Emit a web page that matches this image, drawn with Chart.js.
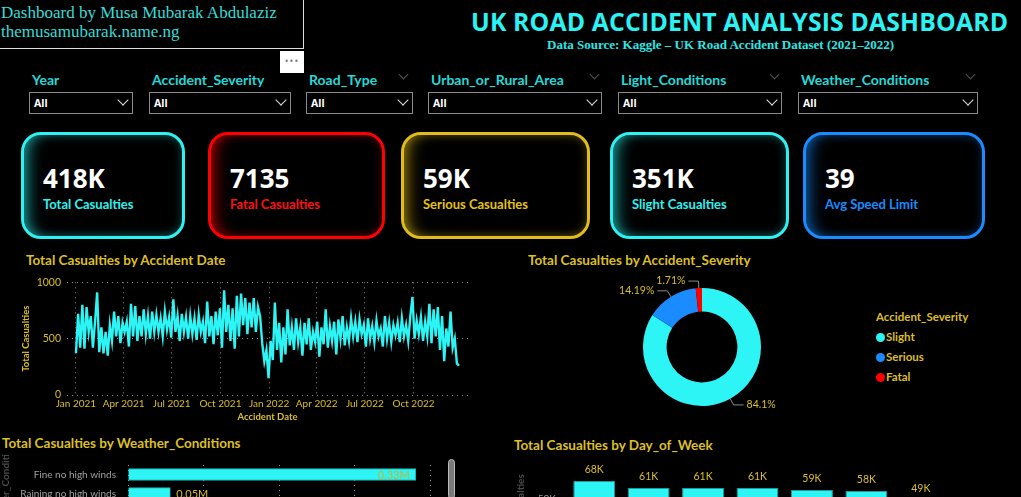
<!DOCTYPE html>
<html>
<head>
<meta charset="utf-8">
<script src="https://cdn.jsdelivr.net/npm/chart.js@4.4.1/dist/chart.umd.min.js"></script>
<style>
  html, body { margin: 0; padding: 0; background: #000; width: 1021px; height: 497px; overflow: hidden; }
  body { position: relative; font-family: "Open Sans", sans-serif; }
  .abs { position: absolute; }
  #author { left: 0; top: 0; width: 304px; height: 49px; border-right: 1px solid #ddd; border-bottom: 1px solid #ddd; white-space: nowrap;
    box-sizing: border-box; font-family: "Liberation Serif", serif; font-size: 17px; line-height: 19px; color: #36dcd8; padding: 3px 0 0 1px; }
  #dots { left: 280px; top: 51px; width: 24px; height: 22px; background: #fff; color: #777; font-size: 10px; text-align: center; line-height: 20px; letter-spacing: 1px; }
  #title { left: 471px; top: 4px; font-weight: 700; font-size: 24.8px; color: #2cf3f3; white-space: nowrap; letter-spacing: 0.15px; }
  #source { left: 547px; top: 37px; font-family: "Liberation Serif", serif; font-weight: 700; font-size: 13px; color: #2ee6e6; white-space: nowrap; }
  .flabel { top: 71px; font-family: Lato, sans-serif; font-weight: 700; font-size: 14px; color: #22dada; white-space: nowrap; }
  .fbox { top: 92px; height: 22px; border: 1px solid #8a8a8a; box-sizing: border-box; }
  .fbox span { position: absolute; left: 4px; top: 3px; font-family: "Noto Sans", sans-serif; font-weight: 700; font-size: 10.5px; color: #fff; }
  .chev { position: absolute; width: 7px; height: 7px; border-right: 1.5px solid #ddd; border-bottom: 1.5px solid #ddd; transform: rotate(45deg); }
  .fbox .chev { right: 5px; top: 3px; }
  .hchev { top: 71px; width: 6px; height: 6px; border-right: 1px solid #555; border-bottom: 1px solid #555; transform: rotate(45deg); }
  .kpi { top: 132px; height: 107px; border: 3.5px solid; border-radius: 20px; box-sizing: border-box; }
  .kpi .num { position: absolute; left: 19px; top: 25px; font-family: "Noto Sans", sans-serif; font-weight: 700; font-size: 26px; color: #fff; }
  .kpi .lab { position: absolute; left: 19px; top: 61px; font-family: Lato, sans-serif; font-weight: 700; font-size: 13px; white-space: nowrap; }
  .ctitle { font-family: Lato, sans-serif; font-weight: 700; font-size: 13.5px; color: #dcbf26; white-space: nowrap; }
  #legend { left: 876px; top: 310px; font-family: Lato, sans-serif; font-weight: 700; font-size: 11.5px; color: #dcbf26; }
  #legend div { height: 20px; line-height: 14px; }
  #legend i { display: inline-block; width: 9px; height: 9px; border-radius: 50%; margin-right: 1px; vertical-align: -1px; }
  #scroll { left: 448px; top: 459px; width: 7px; height: 40px; background: #7a7a7a; border: 1px solid #bbb; border-radius: 4px; box-sizing: border-box; }
  canvas { position: absolute; }
</style>
</head>
<body>

<div id="author" class="abs">Dashboard by Musa Mubarak Abdulaziz<br>themusamubarak.name.ng</div>
<div id="dots" class="abs">&bull;&bull;&bull;</div>
<div id="title" class="abs">UK ROAD ACCIDENT ANALYSIS DASHBOARD</div>
<div id="source" class="abs">Data Source: Kaggle – UK Road Accident Dataset (2021–2022)</div>

<div class="abs flabel" style="left:32px">Year</div>
<div class="abs flabel" style="left:152px">Accident_Severity</div>
<div class="abs flabel" style="left:309px">Road_Type</div>
<div class="abs flabel" style="left:431px">Urban_or_Rural_Area</div>
<div class="abs flabel" style="left:621px">Light_Conditions</div>
<div class="abs flabel" style="left:801px">Weather_Conditions</div>
<div class="abs hchev" style="left:400px"></div>
<div class="abs hchev" style="left:591px"></div>
<div class="abs hchev" style="left:771px"></div>
<div class="abs hchev" style="left:967px"></div>

<div class="abs fbox" style="left:29px;width:104px"><span>All</span><i class="chev"></i></div>
<div class="abs fbox" style="left:149px;width:142px"><span>All</span><i class="chev"></i></div>
<div class="abs fbox" style="left:306px;width:107px"><span>All</span><i class="chev"></i></div>
<div class="abs fbox" style="left:428px;width:174px"><span>All</span><i class="chev"></i></div>
<div class="abs fbox" style="left:618px;width:164px"><span>All</span><i class="chev"></i></div>
<div class="abs fbox" style="left:798px;width:180px"><span>All</span><i class="chev"></i></div>

<div class="abs kpi" style="left:21px;width:164px;border-color:#2ef2f2;box-shadow:inset 12px 0 16px -8px rgba(46,242,242,.55), inset 0 0 10px rgba(46,242,242,.3)">
  <div class="num">418K</div><div class="lab" style="color:#2ef2f2">Total Casualties</div></div>
<div class="abs kpi" style="left:208px;width:177px;border-color:#ff0000;box-shadow:inset 12px 0 16px -8px rgba(255,0,0,.55), inset 0 0 10px rgba(255,0,0,.3)">
  <div class="num">7135</div><div class="lab" style="color:#ff1010">Fatal Casualties</div></div>
<div class="abs kpi" style="left:401px;width:189px;border-color:#e0bd1c;box-shadow:inset 12px 0 16px -8px rgba(224,189,28,.55), inset 0 0 10px rgba(224,189,28,.3)">
  <div class="num">59K</div><div class="lab" style="color:#e6c21a">Serious Casualties</div></div>
<div class="abs kpi" style="left:610px;width:179px;border-color:#2ef2f2;box-shadow:inset 12px 0 16px -8px rgba(46,242,242,.55), inset 0 0 10px rgba(46,242,242,.3)">
  <div class="num">351K</div><div class="lab" style="color:#2ef2f2">Slight Casualties</div></div>
<div class="abs kpi" style="left:803px;width:182px;border-color:#1a8cff;box-shadow:inset 12px 0 16px -8px rgba(26,140,255,.55), inset 0 0 10px rgba(26,140,255,.3)">
  <div class="num">39</div><div class="lab" style="color:#1a8cff">Avg Speed Limit</div></div>

<div class="abs ctitle" style="left:26px;top:252px">Total Casualties by Accident Date</div>
<div class="abs ctitle" style="left:528px;top:252px">Total Casualties by Accident_Severity</div>
<div class="abs ctitle" style="left:2px;top:435px">Total Casualties by Weather_Conditions</div>
<div class="abs ctitle" style="left:514px;top:437px">Total Casualties by Day_of_Week</div>

<canvas id="lineChart" width="455" height="157" style="left:20px;top:270px"></canvas>
<canvas id="donutChart" width="204" height="154" style="left:600px;top:270px"></canvas>
<div id="legend" class="abs"></div>
<canvas id="weatherChart" width="445" height="70" style="left:0px;top:455px"></canvas>
<div id="scroll" class="abs"></div>
<canvas id="dayChart" width="445" height="115" style="left:515px;top:455px"></canvas>

<script>
// casualties, sampled every 4 days from 1 Jan 2021
const dayStep = 4;
const lineValues = [
  370, 720, 420, 800, 410, 780, 560, 700,
  420, 650, 910, 380, 600, 370, 560,
  350, 620, 480, 740, 520, 700, 460, 640,
  560, 650, 430, 810, 520, 790, 480,
  700, 520, 760, 540, 700, 500, 740, 560,
  710, 560, 680, 520, 740, 580, 690,
  510, 850, 560, 700, 480, 720, 560, 690,
  500, 700, 540, 680, 490, 710, 560, 650,
  460, 830, 520, 700, 450, 740, 530,
  770, 420, 930, 560, 800, 480, 770, 410,
  880, 520, 900, 620, 860, 540, 820,
  600, 860, 560, 780, 700, 460, 300, 400,
  150, 480, 310, 820, 400, 640, 290, 600,
  360, 760, 440, 600, 400, 680, 470,
  600, 350, 640, 450, 680, 400, 560, 470,
  650, 340, 600, 450, 760, 420, 610,
  480, 650, 360, 670, 500, 700, 440, 600,
  480, 680, 520, 650, 470, 670, 540,
  620, 430, 680, 500, 610, 470, 660, 520,
  590, 430, 700, 500, 640, 470, 620, 530,
  640, 470, 680, 520, 620, 480, 700,
  870, 500, 660, 540, 690, 480, 650, 520,
  810, 460, 760, 520, 780, 400, 700,
  300, 590, 430, 740, 420, 500, 280, 260
];
const quarterDays = [0, 90, 181, 273, 365, 455, 546, 638];
const quarterLabels = ['Jan 2021', 'Apr 2021', 'Jul 2021', 'Oct 2021', 'Jan 2022', 'Apr 2022', 'Jul 2022', 'Oct 2022'];

const severityLabels = ['Slight', 'Serious', 'Fatal'];
const severityValues = [351436, 59312, 7135];
const severityColors = ['#2ef5f5', '#1a8cff', '#ff0000'];

const weatherLabels = ['Fine no high winds', 'Raining no high winds'];
const weatherValues = [333000, 49000];

const dayLabels = ['Friday', 'Wednesday', 'Thursday', 'Tuesday', 'Monday', 'Saturday', 'Sunday'];
const dayValues = [68000, 61000, 61000, 61000, 59000, 58000, 49000];
const dayTicks = [0, 50000];

const gold = '#dcbf26';
const cyan = '#2ef5f5';
Chart.defaults.font.family = 'Lato, sans-serif';
Chart.defaults.animation = false;

// line chart
new Chart(document.getElementById('lineChart'), {
  type: 'line',
  data: {
    datasets: [{
      data: lineValues.map((v, i) => ({ x: i * dayStep, y: v })),
      borderColor: cyan,
      borderWidth: 2.4,
      pointRadius: 0,
      tension: 0
    }]
  },
  options: {
    responsive: false,
    layout: { padding: { top: 8, right: 7 } },
    plugins: { legend: { display: false }, tooltip: { enabled: false } },
    scales: {
      x: {
        type: 'linear', min: -17, max: 741,
        afterBuildTicks: s => { s.ticks = quarterDays.map(v => ({ value: v })); },
        afterFit: s => { s.height = 32; },
        ticks: { color: gold, font: { size: 10 }, padding: 3, maxRotation: 0, autoSkip: false,
          callback: (v, i) => quarterLabels[i] },
        grid: { color: '#8a8a8a', lineWidth: 1, drawTicks: false },
        border: { display: false, dash: [1, 4] },
        title: { display: true, text: 'Accident Date', color: gold, font: { size: 9.5, weight: 'bold' }, padding: { top: 1 } }
      },
      y: {
        min: 0, max: 1000,
        afterFit: s => { s.width = 47; },
        ticks: { stepSize: 500, color: gold, font: { size: 10.5 }, padding: 6, callback: v => String(v) },
        grid: { color: '#8a8a8a', lineWidth: 1, drawTicks: false },
        border: { display: false, dash: [1, 4] },
        title: { display: true, text: 'Total Casualties', color: gold, font: { size: 9.5, weight: 'bold' }, padding: 0 }
      }
    }
  }
});

// doughnut with leader-line labels
const donutLabels = {
  id: 'donutLabels',
  afterDatasetsDraw(chart) {
    const ctx = chart.ctx;
    const vals = chart.data.datasets[0].data;
    const total = vals.reduce((a, b) => a + b, 0);
    chart.getDatasetMeta(0).data.forEach((arc, i) => {
      const p = arc.getProps(['x', 'y', 'startAngle', 'endAngle', 'outerRadius'], true);
      const a = (p.startAngle + p.endAngle) / 2;
      const c = Math.cos(a), s = Math.sin(a);
      const dir = c >= 0 ? 1 : -1;
      const x0 = p.x + c * p.outerRadius, y0 = p.y + s * p.outerRadius;
      const x1 = p.x + c * (p.outerRadius + 7), y1 = p.y + s * (p.outerRadius + 7);
      const x2 = x1 + dir * 10;
      ctx.save();
      ctx.strokeStyle = '#8a8a8a';
      ctx.lineWidth = 1;
      ctx.beginPath();
      ctx.moveTo(x0, y0); ctx.lineTo(x1, y1); ctx.lineTo(x2, y1);
      ctx.stroke();
      ctx.fillStyle = gold;
      ctx.font = '10.5px Lato, sans-serif';
      ctx.textAlign = dir > 0 ? 'left' : 'right';
      ctx.textBaseline = 'middle';
      const pct = (vals[i] / total * 100).toFixed(2).replace(/0$/, '');
      ctx.fillText(pct + '%', x2 + dir * 3, y1);
      ctx.restore();
    });
  }
};

new Chart(document.getElementById('donutChart'), {
  type: 'doughnut',
  data: {
    labels: severityLabels,
    datasets: [{ data: severityValues, backgroundColor: severityColors, borderWidth: 0 }]
  },
  options: {
    responsive: false,
    cutout: '60%',
    layout: { padding: 18 },
    plugins: { legend: { display: false }, tooltip: { enabled: false } }
  },
  plugins: [donutLabels]
});

document.getElementById('legend').innerHTML = '<div>Accident_Severity</div>' +
  severityLabels.map((l, i) => '<div><i style="background:' + severityColors[i] + '"></i>' + l + '</div>').join('');

// weather bar chart
const weatherBarLabels = {
  id: 'weatherBarLabels',
  afterDatasetsDraw(chart) {
    const ctx = chart.ctx;
    const vals = chart.data.datasets[0].data;
    chart.getDatasetMeta(0).data.forEach((bar, i) => {
      const txt = (vals[i] / 1e6).toFixed(2) + 'M';
      const inside = bar.x - bar.base > 60;
      ctx.save();
      ctx.font = '11px Lato, sans-serif';
      ctx.textBaseline = 'middle';
      ctx.textAlign = inside ? 'right' : 'left';
      ctx.fillStyle = inside ? '#c9b32a' : gold;
      ctx.fillText(txt, inside ? bar.x - 6 : bar.x + 6, bar.y + 1);
      ctx.restore();
    });
  }
};

new Chart(document.getElementById('weatherChart'), {
  type: 'bar',
  data: {
    labels: weatherLabels,
    datasets: [{ data: weatherValues, backgroundColor: cyan, borderColor: '#1bb5b5', borderWidth: 1, barThickness: 12 }]
  },
  options: {
    responsive: false,
    indexAxis: 'y',
    layout: { padding: { top: 10, right: 11 } },
    plugins: { legend: { display: false }, tooltip: { enabled: false } },
    scales: {
      x: {
        min: 0, max: 350000,
        afterFit: s => { s.height = 22; },
        ticks: { stepSize: 100000, includeBounds: false, color: '#999', font: { size: 10 },
          callback: v => (v / 1e6).toFixed(1) + 'M' },
        grid: { color: '#9a9a9a', drawTicks: false },
        border: { display: false, dash: [1, 4] }
      },
      y: {
        afterFit: s => { s.width = 128; },
        ticks: { color: '#a0a0a0', font: { size: 10 }, padding: 4 },
        grid: { display: false },
        border: { display: false },
        title: { display: true, text: 'Weather_Conditions', color: '#4a4a4a', font: { size: 10, weight: 'bold' }, padding: 0 }
      }
    }
  },
  plugins: [weatherBarLabels]
});

// day of week column chart
const dayBarLabels = {
  id: 'dayBarLabels',
  afterDatasetsDraw(chart) {
    const ctx = chart.ctx;
    const vals = chart.data.datasets[0].data;
    chart.getDatasetMeta(0).data.forEach((bar, i) => {
      ctx.save();
      ctx.font = '10.5px Lato, sans-serif';
      ctx.fillStyle = gold;
      ctx.textAlign = 'center';
      ctx.textBaseline = 'bottom';
      ctx.fillText(Math.round(vals[i] / 1000) + 'K', bar.x, bar.y - 6);
      ctx.restore();
    });
  }
};

new Chart(document.getElementById('dayChart'), {
  type: 'bar',
  data: {
    labels: dayLabels,
    datasets: [{ data: dayValues, backgroundColor: cyan, borderColor: '#1a9a9a', borderWidth: 1, categoryPercentage: 1, barPercentage: 0.77 }]
  },
  options: {
    responsive: false,
    layout: { padding: { top: 14, right: 12 } },
    plugins: { legend: { display: false }, tooltip: { enabled: false } },
    scales: {
      x: {
        afterFit: s => { s.height = 21; },
        ticks: { color: '#999', font: { size: 10 } },
        grid: { display: false },
        border: { display: false }
      },
      y: {
        min: 0, max: 80000,
        afterFit: s => { s.width = 52; },
        afterBuildTicks: s => { s.ticks = dayTicks.map(v => ({ value: v })); },
        ticks: { color: '#999', font: { size: 10 }, callback: v => (v / 1000) + 'K' },
        grid: { display: false },
        border: { display: false },
        title: { display: true, text: 'Total Casualties', color: '#4a4a4a', font: { size: 10, weight: 'bold' }, padding: 0 }
      }
    }
  },
  plugins: [dayBarLabels]
});
</script>
</body>
</html>
